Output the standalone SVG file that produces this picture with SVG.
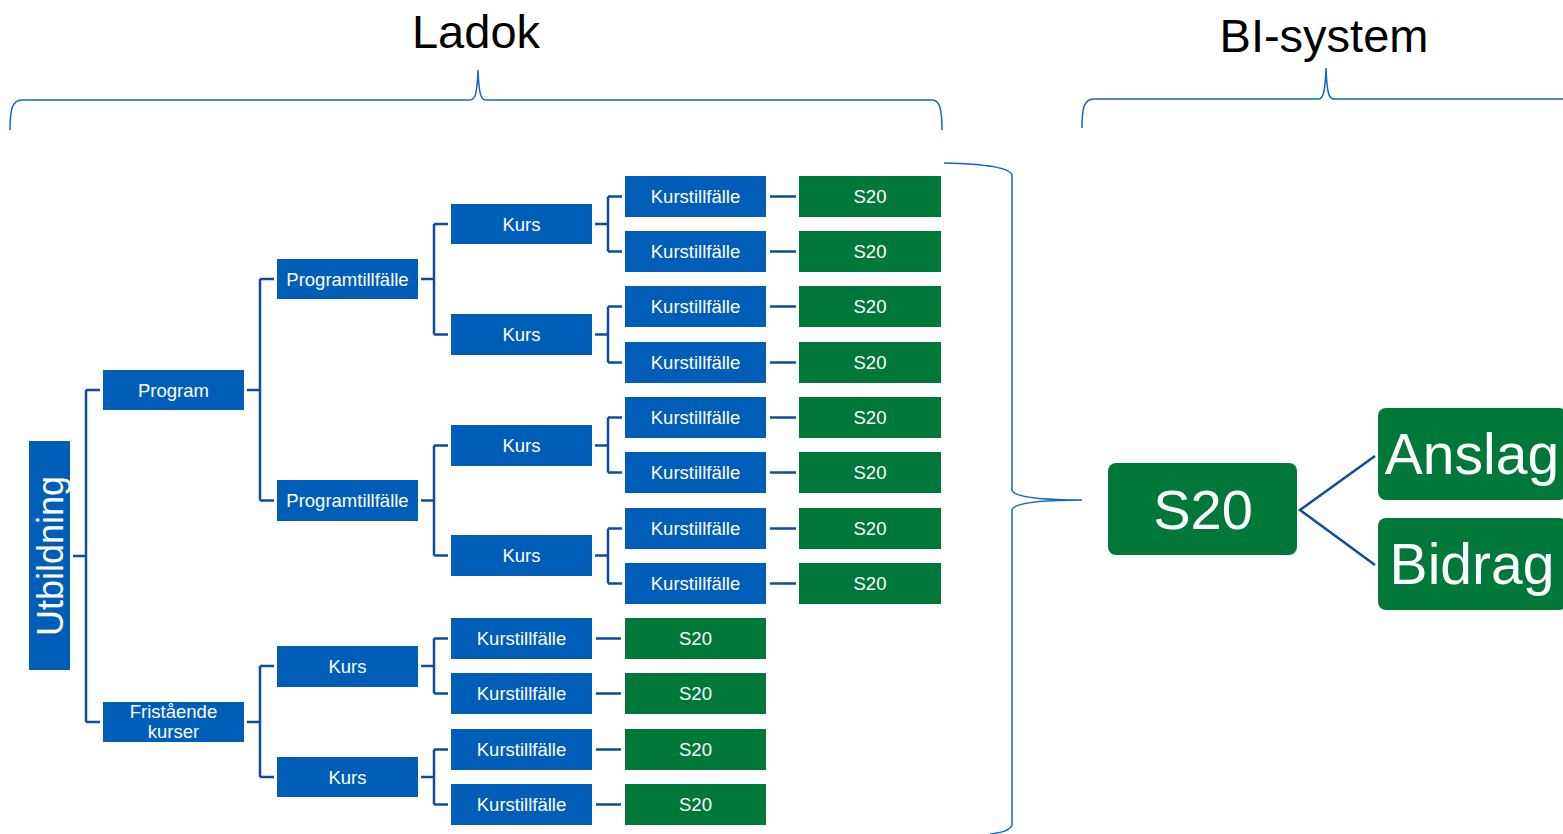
<svg xmlns="http://www.w3.org/2000/svg" width="1563" height="834" viewBox="0 0 1563 834">
<style>
.b{fill:#005EB8}
.g{fill:#00783A}
.t{font-family:"Liberation Sans",Arial,sans-serif;font-size:18.5px;fill:#fff;text-anchor:middle}
.big{font-family:"Liberation Sans",Arial,sans-serif;font-size:57px;fill:#fff;text-anchor:middle}
.title{font-family:"Liberation Sans",Arial,sans-serif;font-size:47px;fill:#000;text-anchor:middle}
.c{fill:none;stroke:#0F4C9C;stroke-width:2.5}
.br{fill:none;stroke:#1565C0;stroke-width:1.5}
</style>
<rect width="1563" height="834" fill="#fff"/>
<text class="title" x="476" y="48">Ladok</text>
<text class="title" x="1324" y="52">BI-system</text>
<g id="braces">
<path class="br" d="M10,130 C10,110 12,100 22,100 L470,100 C475,100 477,95 478,70 C479,95 481,100 486,100 L932,100 C940,100 942,110 942,130"/>
<path class="br" d="M1082,128 C1082,108 1084,99 1094,99 L1318,99 C1323,99 1325,94 1326,68 C1327,94 1329,99 1334,99 L1563,99"/>
<path class="br" d="M944,163 C990,164 1010,168 1012,175 L1012,490 C1014,497 1040,500 1082,500 C1040,500 1014,503 1012,510 L1012,825 C1010,831 1000,833 990,834"/>
</g>
<g id="connectors">
<path class="c" d="M73,556 H86 M86,390 V722 M86,390 H100 M86,722 H100"/>
<path class="c" d="M247,390 H260 M260,279 V500.5 M260,279 H274 M260,500.5 H274"/>
<path class="c" d="M247,722 H260 M260,666 V777 M260,666 H274 M260,777 H274"/>
<path class="c" d="M421,279 H434 M434,224 V334.5 M434,224 H448 M434,334.5 H448"/>
<path class="c" d="M421,500.5 H434 M434,445.5 V555.5 M434,445.5 H448 M434,555.5 H448"/>
<path class="c" d="M421,666 H434 M434,638.5 V693.5 M434,638.5 H448 M434,693.5 H448"/>
<path class="c" d="M421,777 H434 M434,749.5 V804.5 M434,749.5 H448 M434,804.5 H448"/>
<path class="c" d="M595,224 H608 M608,196.5 V251.5 M608,196.5 H622 M608,251.5 H622"/>
<path class="c" d="M595,334.5 H608 M608,306.5 V362.5 M608,306.5 H622 M608,362.5 H622"/>
<path class="c" d="M595,445.5 H608 M608,417.5 V472.5 M608,417.5 H622 M608,472.5 H622"/>
<path class="c" d="M595,555.5 H608 M608,528.5 V583.5 M608,528.5 H622 M608,583.5 H622"/>
<path class="c" d="M770,196.5 H796 M770,251.5 H796 M770,306.5 H796 M770,362.5 H796 M770,417.5 H796 M770,472.5 H796 M770,528.5 H796 M770,583.5 H796"/>
<path class="c" d="M596,638.5 H621 M596,693.5 H621 M596,749.5 H621 M596,804.5 H621"/>
<path class="c" d="M1375,456 L1300,510 L1375,565"/>
</g>
<g id="utbildning"><rect class="b" x="29" y="441" width="41" height="229"/><text class="t" style="font-size:36px" transform="translate(63,556) rotate(-90)">Utbildning</text></g>
<g id="program"><rect class="b" x="103" y="370" width="141" height="40"/><text class="t" x="173.5" y="396.5">Program</text></g>
<g id="fristaende"><rect class="b" x="103" y="702" width="141" height="40"/><text class="t" x="173.5" y="718">Fristående</text><text class="t" x="173.5" y="738">kurser</text></g>
<g id="pt1"><rect class="b" x="277" y="259" width="141" height="40"/><text class="t" x="347.5" y="285.5">Programtillfälle</text></g>
<g id="pt2"><rect class="b" x="277" y="480" width="141" height="41"/><text class="t" x="347.5" y="507">Programtillfälle</text></g>
<g id="fkurs1"><rect class="b" x="277" y="646" width="141" height="41"/><text class="t" x="347.5" y="672.5">Kurs</text></g>
<g id="fkurs2"><rect class="b" x="277" y="757" width="141" height="40"/><text class="t" x="347.5" y="783.5">Kurs</text></g>
<g id="kurs1"><rect class="b" x="451" y="204" width="141" height="40"/><text class="t" x="521.5" y="230.5">Kurs</text></g>
<g id="kurs2"><rect class="b" x="451" y="314" width="141" height="41"/><text class="t" x="521.5" y="341">Kurs</text></g>
<g id="kurs3"><rect class="b" x="451" y="425" width="141" height="41"/><text class="t" x="521.5" y="452">Kurs</text></g>
<g id="kurs4"><rect class="b" x="451" y="535" width="141" height="41"/><text class="t" x="521.5" y="562">Kurs</text></g>
<g id="kt1"><rect class="b" x="625" y="176" width="141" height="41"/><text class="t" x="695.5" y="203">Kurstillfälle</text></g>
<g id="kt2"><rect class="b" x="625" y="231" width="141" height="41"/><text class="t" x="695.5" y="258">Kurstillfälle</text></g>
<g id="kt3"><rect class="b" x="625" y="286" width="141" height="41"/><text class="t" x="695.5" y="313">Kurstillfälle</text></g>
<g id="kt4"><rect class="b" x="625" y="342" width="141" height="41"/><text class="t" x="695.5" y="369">Kurstillfälle</text></g>
<g id="kt5"><rect class="b" x="625" y="397" width="141" height="41"/><text class="t" x="695.5" y="424">Kurstillfälle</text></g>
<g id="kt6"><rect class="b" x="625" y="452" width="141" height="41"/><text class="t" x="695.5" y="479">Kurstillfälle</text></g>
<g id="kt7"><rect class="b" x="625" y="508" width="141" height="41"/><text class="t" x="695.5" y="535">Kurstillfälle</text></g>
<g id="kt8"><rect class="b" x="625" y="563" width="141" height="41"/><text class="t" x="695.5" y="590">Kurstillfälle</text></g>
<g id="s1"><rect class="g" x="799" y="176" width="142" height="41"/><text class="t" x="870" y="203">S20</text></g>
<g id="s2"><rect class="g" x="799" y="231" width="142" height="41"/><text class="t" x="870" y="258">S20</text></g>
<g id="s3"><rect class="g" x="799" y="286" width="142" height="41"/><text class="t" x="870" y="313">S20</text></g>
<g id="s4"><rect class="g" x="799" y="342" width="142" height="41"/><text class="t" x="870" y="369">S20</text></g>
<g id="s5"><rect class="g" x="799" y="397" width="142" height="41"/><text class="t" x="870" y="424">S20</text></g>
<g id="s6"><rect class="g" x="799" y="452" width="142" height="41"/><text class="t" x="870" y="479">S20</text></g>
<g id="s7"><rect class="g" x="799" y="508" width="142" height="41"/><text class="t" x="870" y="535">S20</text></g>
<g id="s8"><rect class="g" x="799" y="563" width="142" height="41"/><text class="t" x="870" y="590">S20</text></g>
<g id="fkt1"><rect class="b" x="451" y="618" width="141" height="41"/><text class="t" x="521.5" y="645">Kurstillfälle</text></g>
<g id="fkt2"><rect class="b" x="451" y="673" width="141" height="41"/><text class="t" x="521.5" y="700">Kurstillfälle</text></g>
<g id="fkt3"><rect class="b" x="451" y="729" width="141" height="41"/><text class="t" x="521.5" y="756">Kurstillfälle</text></g>
<g id="fkt4"><rect class="b" x="451" y="784" width="141" height="41"/><text class="t" x="521.5" y="811">Kurstillfälle</text></g>
<g id="fs1"><rect class="g" x="625" y="618" width="141" height="41"/><text class="t" x="695.5" y="645">S20</text></g>
<g id="fs2"><rect class="g" x="625" y="673" width="141" height="41"/><text class="t" x="695.5" y="700">S20</text></g>
<g id="fs3"><rect class="g" x="625" y="729" width="141" height="41"/><text class="t" x="695.5" y="756">S20</text></g>
<g id="fs4"><rect class="g" x="625" y="784" width="141" height="41"/><text class="t" x="695.5" y="811">S20</text></g>
<g id="s20big"><rect class="g" x="1108" y="463" width="189" height="92" rx="8"/><text class="big" style="font-size:56px" x="1203" y="529">S20</text></g>
<g id="anslag"><rect class="g" x="1378" y="408" width="189" height="92" rx="8"/><text class="big" x="1472" y="474">Anslag</text></g>
<g id="bidrag"><rect class="g" x="1378" y="518" width="189" height="92" rx="8"/><text class="big" x="1472" y="584">Bidrag</text></g>
</svg>
